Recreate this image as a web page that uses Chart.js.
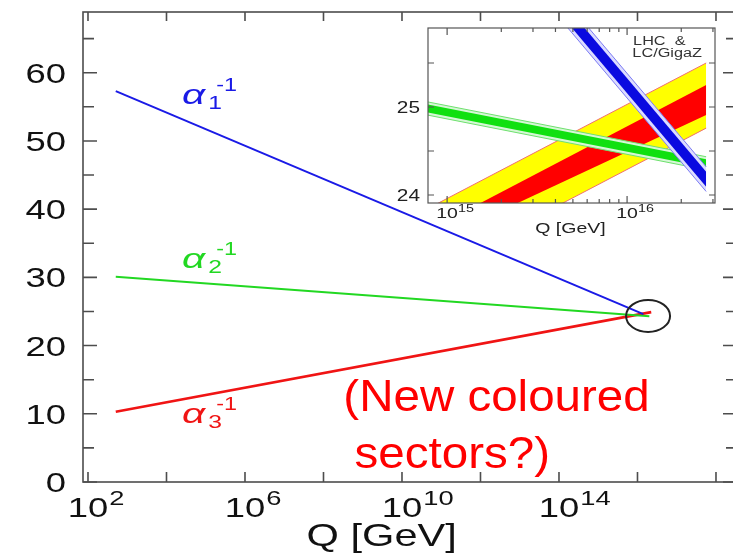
<!DOCTYPE html>
<html>
<head>
<meta charset="utf-8">
<script src="https://cdn.jsdelivr.net/npm/chart.js@4.4.1/dist/chart.umd.min.js"></script>
<style>
    html, body { margin: 0; padding: 0; background: #fff; overflow: hidden; }
    #wrap { position: relative; width: 733px; height: 555px; overflow: hidden; }
    #main { position: absolute; left: 0; top: 0; }
    #inset { position: absolute; left: 380px; top: 15px; }
</style>
</head>
<body>
<div id="wrap">
    <canvas id="main" width="745" height="555"></canvas>
    <canvas id="inset" width="353" height="230"></canvas>
</div>
<script>
// ---- main plot: inverse couplings vs Q (GeV) ----
const alpha1Q = [5.1e2, 1.41e16];
const alpha1Inv = [57.3, 24.6];
const alpha2Q = [5.1e2, 2.0e16];
const alpha2Inv = [30.1, 24.3];
const alpha3Q = [5.1e2, 2.24e16];
const alpha3Inv = [10.3, 24.9];

const yTickValues = [0, 10, 20, 30, 40, 50, 60];
const yMinorValues = [5, 15, 25, 35, 45, 55, 65];
const qTickValues = [1e2, 1e4, 1e6, 1e8, 1e10, 1e12, 1e14, 1e16, 1e18];
const qLabelExps = [2, 6, 10, 14];

// ---- inset: zoom on the unification region ----
const insetYTicks = [24, 24.5, 25, 25.5];
const insetYLabels = [24, 25];
const insetQMajor = [1e15, 1e16];
const insetQMinor = [2e15, 3e15, 4e15, 5e15, 6e15, 7e15, 8e15, 9e15, 2e16, 3e16];
const insetQLabelExps = [15, 16];

const blueQ = [3.98e15, 2.75e16];
const blueCoreHi = [26.295, 24.265];
const blueCoreLo = [26.125, 24.095];
const blueOuterHi = [26.35, 24.32];
const blueOuterLo = [26.07, 24.04];

const bandQ = [7.08e14, 2.75e16];
const greenCoreHi = [25.045, 24.405];
const greenCoreLo = [24.955, 24.315];
const greenOuterHi = [25.075, 24.435];
const greenOuterLo = [24.925, 24.285];
const redHi = [23.55, 25.25];
const redLo = [23.39, 24.91];
const yellowHi = [23.80, 25.50];
const yellowLo = [23.06, 24.76];

const FONT = '"Liberation Sans", Arial, sans-serif';
const SX = 1.3; // the original figure's lettering is stretched sideways

const pts = (xs, ys) => xs.map((x, i) => ({ x: x, y: ys[i] }));

function drawText(ctx, str, x, y, size, color, align, sx, style) {
    ctx.save();
    ctx.font = (style || '') + ' ' + size + 'px ' + FONT;
    ctx.fillStyle = color;
    ctx.textAlign = 'left';
    ctx.textBaseline = 'alphabetic';
    const w = ctx.measureText(str).width * sx;
    let x0 = x;
    if (align === 'center') x0 = x - w / 2;
    if (align === 'right') x0 = x - w;
    ctx.translate(x0, y);
    ctx.scale(sx, 1);
    ctx.fillText(str, 0, 0);
    ctx.restore();
    return w;
}

function drawAlpha(ctx, x, y, sub, color) {
    const w = drawText(ctx, '\u03b1', x, y, 28, color, 'left', 1.45, 'italic');
    drawText(ctx, sub, x + w + 3, y + 5, 19, color, 'left', SX);
    drawText(ctx, '-1', x + w + 11, y - 13, 18, color, 'left', SX);
}

// positions of annotations, in data units
const alphaLabelQ = 2.5e4;
const alphaLabelY = [55.4, 31.4, 8.6];
const unifyPoint = { q: 1.86e16, y: 24.34 };
const noteLines = ['(New coloured', 'sectors?)'];
const noteAt = [{ q: 3.2e8, y: 10.4 }, { q: 6.2e8, y: 2.05 }];

const mainFrame = {
    id: 'mainFrame',
    beforeDraw(chart) {
        const ctx = chart.ctx;
        ctx.save();
        ctx.fillStyle = '#fff';
        ctx.fillRect(0, 0, chart.width, chart.height);
        ctx.restore();
    },
    afterDraw(chart) {
        const { ctx, chartArea: a, scales: { x, y } } = chart;
        ctx.save();
        ctx.strokeStyle = '#4d4d4d';
        ctx.lineWidth = 1.6;
        ctx.strokeRect(a.left, a.top, a.right - a.left, a.bottom - a.top);
        ctx.beginPath();
        yTickValues.forEach(v => {
            const py = y.getPixelForValue(v);
            ctx.moveTo(a.left, py); ctx.lineTo(a.left + 14, py);
            ctx.moveTo(a.right, py); ctx.lineTo(a.right - 14, py);
        });
        yMinorValues.forEach(v => {
            const py = y.getPixelForValue(v);
            ctx.moveTo(a.left, py); ctx.lineTo(a.left + 11, py);
            ctx.moveTo(a.right, py); ctx.lineTo(a.right - 11, py);
        });
        qTickValues.forEach(v => {
            const px = x.getPixelForValue(v);
            ctx.moveTo(px, a.bottom); ctx.lineTo(px, a.bottom - 10);
            ctx.moveTo(px, a.top); ctx.lineTo(px, a.top + 9);
        });
        ctx.stroke();
        ctx.restore();

        yTickValues.forEach(v => {
            drawText(ctx, String(v), a.left - 17, y.getPixelForValue(v) + 10, 28, '#111', 'right', SX);
        });
        qLabelExps.forEach(e => {
            const px = x.getPixelForValue(Math.pow(10, e));
            const w = drawText(ctx, '10', px, a.bottom + 35, 28, '#111', 'center', SX);
            drawText(ctx, String(e), px + w / 2 + 1, a.bottom + 23, 21, '#111', 'left', SX);
        });
        drawText(ctx, 'Q [GeV]', (x.getPixelForValue(1e2) + x.getPixelForValue(1e16)) / 2 + 19, a.bottom + 64, 32, '#111', 'center', SX);

        const ax = x.getPixelForValue(alphaLabelQ);
        drawAlpha(ctx, ax, y.getPixelForValue(alphaLabelY[0]), '1', '#1a1ae6');
        drawAlpha(ctx, ax, y.getPixelForValue(alphaLabelY[1]), '2', '#22d822');
        drawAlpha(ctx, ax, y.getPixelForValue(alphaLabelY[2]), '3', '#f01414');

        noteLines.forEach((t, i) => {
            drawText(ctx, t, x.getPixelForValue(noteAt[i].q), y.getPixelForValue(noteAt[i].y), 44, '#ff0000', 'left', 1.08);
        });

        ctx.save();
        ctx.strokeStyle = '#222';
        ctx.lineWidth = 2;
        ctx.beginPath();
        ctx.ellipse(x.getPixelForValue(unifyPoint.q), y.getPixelForValue(unifyPoint.y), 22, 16, 0, 0, Math.PI * 2);
        ctx.stroke();
        ctx.restore();
    }
};

new Chart(document.getElementById('main'), {
    type: 'line',
    data: {
        datasets: [
            { data: pts(alpha1Q, alpha1Inv), borderColor: '#1a1ae6', borderWidth: 2 },
            { data: pts(alpha2Q, alpha2Inv), borderColor: '#22d822', borderWidth: 2 },
            { data: pts(alpha3Q, alpha3Inv), borderColor: '#f01414', borderWidth: 2.6 }
        ]
    },
    options: {
        responsive: false,
        animation: false,
        layout: { padding: { left: 83, top: 12, right: 8, bottom: 73 } },
        elements: { point: { radius: 0 }, line: { tension: 0, fill: false } },
        scales: {
            x: { type: 'logarithmic', display: false, min: 74.6, max: 3.43e18 },
            y: { type: 'linear', display: false, min: 0, max: 68.9 }
        },
        plugins: { legend: { display: false }, tooltip: { enabled: false } }
    },
    plugins: [mainFrame]
});

// ---- inset chart ----
function band(q, hi, lo, fillColor, edgeColor, edgeWidth, order) {
    return [
        { data: pts(q, hi), borderColor: edgeColor, borderWidth: edgeWidth, fill: false, order: order },
        { data: pts(q, lo), borderColor: edgeColor, borderWidth: edgeWidth, fill: '-1', backgroundColor: fillColor, order: order }
    ];
}

const insetNote = [{ t: 'LHC  &', q: 1.08e16, y: 25.70 }, { t: 'LC/GigaZ', q: 1.07e16, y: 25.565 }];

const insetFrame = {
    id: 'insetFrame',
    beforeDatasetsDraw(chart) {
        const { ctx, chartArea: a } = chart;
        ctx.save();
        ctx.fillStyle = '#fff';
        ctx.fillRect(a.left, a.top, a.right - a.left, a.bottom - a.top);
        ctx.restore();
    },
    afterDraw(chart) {
        const { ctx, chartArea: a, scales: { x, y } } = chart;
        ctx.save();
        ctx.strokeStyle = '#555';
        ctx.lineWidth = 1.2;
        ctx.strokeRect(a.left, a.top, a.right - a.left, a.bottom - a.top);
        ctx.beginPath();
        insetYTicks.forEach(v => {
            const py = y.getPixelForValue(v);
            ctx.moveTo(a.left, py); ctx.lineTo(a.left + 6, py);
            ctx.moveTo(a.right, py); ctx.lineTo(a.right - 6, py);
        });
        insetQMajor.forEach(v => {
            const px = x.getPixelForValue(v);
            ctx.moveTo(px, a.bottom); ctx.lineTo(px, a.bottom - 7);
            ctx.moveTo(px, a.top); ctx.lineTo(px, a.top + 7);
        });
        insetQMinor.forEach(v => {
            const px = x.getPixelForValue(v);
            ctx.moveTo(px, a.bottom); ctx.lineTo(px, a.bottom - 4);
            ctx.moveTo(px, a.top); ctx.lineTo(px, a.top + 4);
        });
        ctx.stroke();
        ctx.restore();

        insetYLabels.forEach(v => {
            drawText(ctx, String(v), a.left - 8, y.getPixelForValue(v) + 6, 16, '#222', 'right', SX);
        });
        insetQLabelExps.forEach(e => {
            const px = x.getPixelForValue(Math.pow(10, e));
            const w = drawText(ctx, '10', px, a.bottom + 15, 15, '#222', 'center', SX);
            drawText(ctx, String(e), px + w / 2, a.bottom + 9, 11, '#222', 'left', SX);
        });
        drawText(ctx, 'Q [GeV]', (a.left + a.right) / 2 - 1, a.bottom + 30, 15, '#222', 'center', SX);
        insetNote.forEach(n => {
            drawText(ctx, n.t, x.getPixelForValue(n.q), y.getPixelForValue(n.y), 12.5, '#333', 'left', SX);
        });
    }
};

new Chart(document.getElementById('inset'), {
    type: 'line',
    data: {
        datasets: [
            ...band(blueQ, blueCoreHi, blueCoreLo, '#0a0ae0', 'rgba(0,0,0,0)', 0, 1),
            ...band(blueQ, blueOuterHi, blueOuterLo, '#dcdcff', '#7c7cf4', 1, 2),
            ...band(bandQ, greenCoreHi, greenCoreLo, '#10e010', 'rgba(0,0,0,0)', 0, 3),
            ...band(bandQ, greenOuterHi, greenOuterLo, '#d6f7d6', '#6ee06e', 1, 4),
            ...band(bandQ, redHi, redLo, '#ff0000', 'rgba(0,0,0,0)', 0, 5),
            ...band(bandQ, yellowHi, yellowLo, '#ffff00', '#f07070', 1, 6)
        ]
    },
    options: {
        responsive: false,
        animation: false,
        layout: { padding: { left: 48, top: 13, right: 18, bottom: 42 } },
        elements: { point: { radius: 0 }, line: { tension: 0 } },
        scales: {
            x: { type: 'logarithmic', display: false, min: 7.83e14, max: 3.08e16 },
            y: { type: 'linear', display: false, min: 23.909, max: 25.898 }
        },
        plugins: { legend: { display: false }, tooltip: { enabled: false } }
    },
    plugins: [insetFrame]
});
</script>
</body>
</html>
